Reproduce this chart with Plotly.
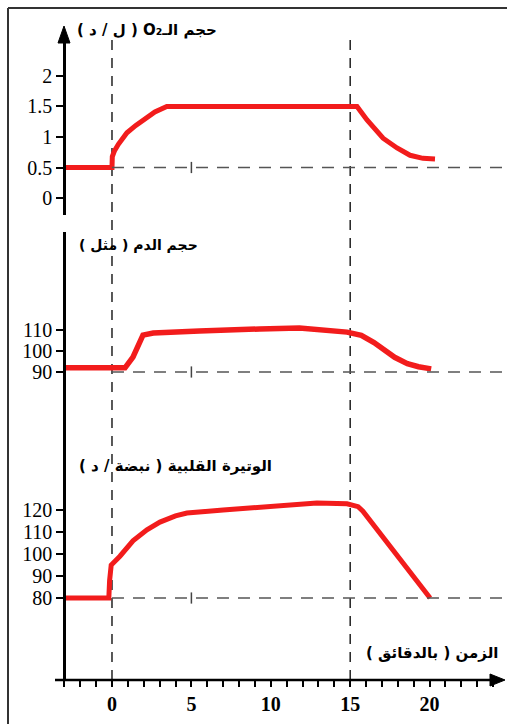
import plotly.graph_objects as go

W, H = 507, 724

# ---- data ----
o2_t = [-3, 0, 0.02, 0.15, 0.4, 0.94, 1.5, 1.95, 2.7, 3.45, 15.43, 16.06, 16.6, 17.07, 17.95, 18.77, 19.58, 20.34]
o2_v = [0.5, 0.5, 0.68, 0.77, 0.88, 1.07, 1.19, 1.28, 1.41, 1.5, 1.5, 1.28, 1.12, 0.98, 0.82, 0.70, 0.65, 0.64]

blood_t = [-3, 0.82, 1.32, 1.95, 2.6, 3.5, 5.5, 9.3, 11.8, 14.8, 15.7, 16.5, 17.1, 17.8, 18.6, 19.3, 20.1]
blood_v = [92, 92, 97.1, 107.6, 108.6, 109, 109.5, 110.5, 111, 109, 107.5, 104, 100.5, 97, 94, 92.5, 91.5]

hr_t = [-3, -0.2, -0.15, -0.05, 0.5, 1.32, 2.2, 3.02, 4.0, 4.72, 7.0, 9.32, 12.0, 12.9, 14.8, 15.5, 15.8, 16.4, 17.07, 18.58, 20.03]
hr_v = [80, 80, 88, 95, 99, 106, 111, 114.5, 117.3, 118.6, 120, 121.4, 122.6, 123.2, 122.8, 121.5, 119.5, 114, 107.7, 94, 80]

o2_ticks = [0, 0.5, 1, 1.5, 2]
o2_ticktext = ["0", "0.5", "1", "1.5", "2"]
blood_ticks = [90, 100, 110]
hr_ticks = [80, 90, 100, 110, 120]
x_ticks = list(range(-3, 25))
x_ticktext = [str(v) if v in (0, 5, 10, 15, 20) else "" for v in x_ticks]

o2_base, blood_base, hr_base = 0.5, 90, 80
marker_times = [0, 15]

title_o2 = "\u202bحجم الـO\u2082 ( ل / د )\u202c"
title_blood = "\u202bحجم الدم ( مثل )\u202c"
title_hr = "\u202bالوتيرة القلبية ( نبضة / د )\u202c"
title_x = "\u202bالزمن ( بالدقائق )\u202c"

# ---- helpers ----
def px(x):
    return x / W

def py(y):
    return 1 - y / H

RED = "#f21c1c"
XR = [-3.589, 24.874]

fig = go.Figure()

fig.add_trace(go.Scatter(x=o2_t, y=o2_v, mode="lines", line=dict(color=RED, width=5),
                         xaxis="x", yaxis="y", showlegend=False))
fig.add_trace(go.Scatter(x=blood_t, y=blood_v, mode="lines", line=dict(color=RED, width=5.5),
                         xaxis="x", yaxis="y2", showlegend=False))
fig.add_trace(go.Scatter(x=hr_t, y=hr_v, mode="lines", line=dict(color=RED, width=5),
                         xaxis="x", yaxis="y3", showlegend=False))

# horizontal dashed baselines
for yax, base in (("y", o2_base), ("y2", blood_base), ("y3", hr_base)):
    fig.add_trace(go.Scatter(x=[0, XR[1]], y=[base, base], mode="lines",
                             line=dict(color="#555555", width=1.5, dash="12px,9px"),
                             xaxis="x", yaxis=yax, showlegend=False))
    fig.add_trace(go.Scatter(x=[5], y=[base], mode="markers",
                             marker=dict(symbol="line-ns-open", size=8, color="#444444",
                                         line=dict(color="#444444", width=1.5)),
                             xaxis="x", yaxis=yax, showlegend=False))

# vertical dashed lines at t=0 and t=15
for t in marker_times:
    fig.add_shape(type="line", xref="x", yref="paper", x0=t, x1=t, y0=py(680), y1=py(40),
                  line=dict(color="#222222", width=1.5, dash="10px,8px"), layer="below")

axis_common = dict(showgrid=False, zeroline=False, showline=True, linecolor="black", linewidth=2.5,
                   ticks="outside", ticklen=7, tickwidth=1.5, tickcolor="black",
                   tickfont=dict(family="Liberation Serif", size=20, color="black"),
                   anchor="free", position=px(64))

fig.update_layout(
    width=W, height=H,
    margin=dict(l=0, r=0, t=0, b=0),
    paper_bgcolor="white", plot_bgcolor="white",
    xaxis=dict(domain=[px(55), 1], range=XR, showgrid=False, zeroline=False, showline=False,
               anchor="y3", tickmode="array", tickvals=x_ticks, ticktext=x_ticktext,
               ticks="outside", ticklen=6, tickwidth=2, tickcolor="black",
               tickfont=dict(family="Liberation Serif", size=20, color="black", weight="bold")),
    yaxis=dict(domain=[py(215), py(40)], range=[-0.2787, 2.590], tickmode="array",
               tickvals=o2_ticks, ticktext=o2_ticktext, **axis_common),
    yaxis2=dict(domain=[py(440), py(232)], range=[57.62, 156.67], tickmode="array",
                tickvals=blood_ticks, **axis_common),
    yaxis3=dict(domain=[py(680), py(440)], range=[42.73, 151.82], tickmode="array",
                tickvals=hr_ticks, **axis_common),
)

# x axis line + arrows + frame
fig.add_shape(type="line", xref="paper", yref="paper", x0=px(55), x1=px(493), y0=py(680), y1=py(680),
              line=dict(color="black", width=2.5))
fig.add_shape(type="path", xref="paper", yref="paper",
              path=f"M {px(505)} {py(680)} L {px(490)} {py(674)} L {px(490)} {py(686)} Z",
              fillcolor="black", line=dict(color="black", width=1))
fig.add_shape(type="path", xref="paper", yref="paper",
              path=f"M {px(64)} {py(26)} L {px(58)} {py(43)} L {px(70)} {py(43)} Z",
              fillcolor="black", line=dict(color="black", width=1))
fig.add_shape(type="line", xref="paper", yref="paper", x0=px(8), x1=1, y0=py(8), y1=py(8),
              line=dict(color="#333333", width=2))
fig.add_shape(type="line", xref="paper", yref="paper", x0=px(8), x1=px(8), y0=0, y1=py(8),
              line=dict(color="#333333", width=2))

afont = dict(family="DejaVu Sans", size=14, color="black", weight="bold")
fig.add_annotation(text=title_o2, x=px(75), y=py(30), xref="paper", yref="paper",
                   xanchor="left", yanchor="middle", showarrow=False, font=dict(afont, size=15))
fig.add_annotation(text=title_blood, x=px(77), y=py(245), xref="paper", yref="paper",
                   xanchor="left", yanchor="middle", showarrow=False, font=afont)
fig.add_annotation(text=title_hr, x=px(77), y=py(466), xref="paper", yref="paper",
                   xanchor="left", yanchor="middle", showarrow=False, font=dict(afont, size=15))
fig.add_annotation(text=title_x, x=px(500), y=py(653), xref="paper", yref="paper",
                   xanchor="right", yanchor="middle", showarrow=False, font=dict(afont, size=15))

fig.write_html("out.html", config={"displayModeBar": False},
               post_script="document.body.style.margin='0';document.body.style.overflow='hidden';")
